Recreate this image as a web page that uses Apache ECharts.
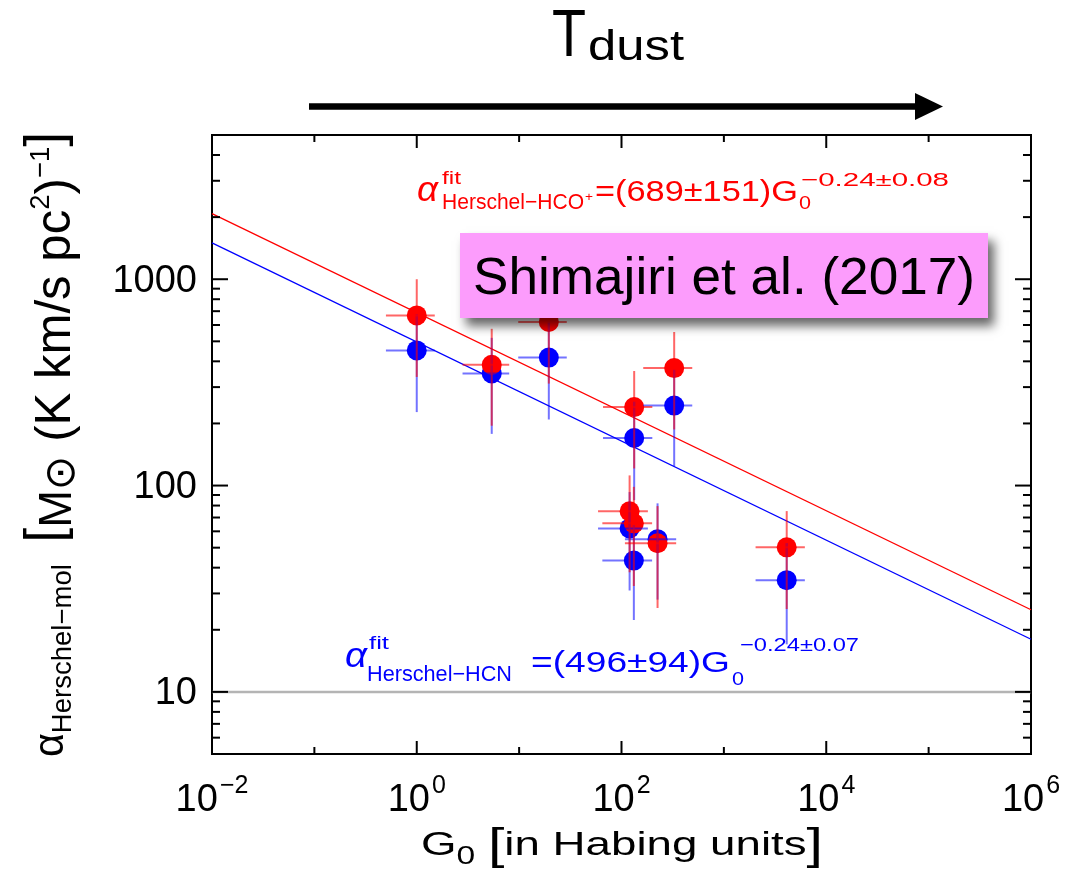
<!DOCTYPE html>
<html>
<head>
<meta charset="utf-8">
<script src="https://cdn.jsdelivr.net/npm/echarts@6/dist/echarts.min.js"></script>
<style>html,body{margin:0;padding:0;background:#fff}#c{width:1081px;height:876px}</style>
</head>
<body>
<div id="c"></div>
<script>
// ---------------- data ----------------
const hcnG        = [1.0, 5.4, 19.5, 327, 133, 120, 225, 132, 4110];
const hcnAlpha    = [452, 349, 417, 244, 170, 62, 55, 43.3, 34.8];
const hcnGErr     = [0.5, 2.6, 9.7, 164, 67, 61, 117, 67, 2070];
const hcnAlphaErr = [225, 171, 208, 120, 85, 31, 27, 21, 17.8];

const hcoG        = [1.0, 5.4, 19.5, 327, 133, 120, 225, 132, 4110];
const hcoAlpha    = [668, 385, 621, 371, 240, 75, 52.5, 65.6, 50.2];
const hcoGErr     = [0.5, 2.6, 9.7, 164, 67, 61, 117, 67, 2070];
const hcoAlphaErr = [332, 190, 309, 184, 119, 37, 27, 33, 25];

// fit lines: end points read at the plot edges
const fitG     = [0.01, 1000000];
const fitHCO   = [2080, 25.0];
const fitHCN   = [1500, 18.0];
const refLevel = [10, 10];

// ticks
const xMajorTicks = [0.01, 1, 100, 10000, 1000000];
const xTickExps   = ['\u22122', '0', '2', '4', '6'];
const xMinorTicks = [0.1, 10, 1000, 100000];
const yMajorTicks = [10, 100, 1000];
const yTickLabels = ['10', '100', '1000'];
const yMinorTicks = [5, 6, 7, 8, 9, 20, 30, 40, 50, 60, 70, 80, 90,
                     200, 300, 400, 500, 600, 700, 800, 900, 2000, 3000, 4000, 5000];

// ---------------- helpers ----------------
const FAM = '"Liberation Sans", Arial, sans-serif';
const mctx = document.createElement('canvas').getContext('2d');
function tw(t, font) { mctx.font = font; return mctx.measureText(t).width; }
function fnt(size, italic, fam) { return (italic ? 'italic ' : '') + size + 'px ' + (fam || FAM); }
const MID = 0.33; // middle-baseline offset (fraction of font size above alphabetic baseline)

function fitText(t, x0, x1, base, size, opt) {
  opt = opt || {};
  const font = fnt(size, opt.italic, opt.family);
  const w = tw(t, font);
  return {
    type: 'text', x: x0, y: base - MID * size, scaleX: (x1 - x0) / w, z: 100,
    style: { text: t, font: font, fill: opt.color || '#000', align: 'left', verticalAlign: 'middle' }
  };
}
// sequential pieces along a baseline, scaled to a total length
function seqText(pieces, x, y, total, rotation, color) {
  let u = 0;
  const children = [];
  pieces.forEach(p => {
    const font = fnt(p.size, p.italic, p.family);
    u += (p.pre || 0);
    children.push({
      type: 'text', x: u, y: (p.dy || 0) - MID * p.size,
      style: { text: p.t, font: font, fill: color || '#000', align: 'left', verticalAlign: 'middle' }
    });
    u += tw(p.t, font);
  });
  return { type: 'group', x: x, y: y, rotation: rotation || 0, scaleX: total / u, z: 100, children: children };
}

function zip4(a, b, c, d) { return a.map((v, i) => [v, b[i], c[i], d[i]]); }

function errRender(color) {
  return function (params, api) {
    const g = api.value(0), a = api.value(1), dg = api.value(2), da = api.value(3);
    const pL = api.coord([g - dg, a]), pR = api.coord([g + dg, a]);
    const pT = api.coord([g, a + da]), pB = api.coord([g, a - da]);
    return {
      type: 'group', children: [
        { type: 'line', shape: { x1: pL[0], y1: pL[1], x2: pR[0], y2: pR[1] }, style: { stroke: color, lineWidth: 2 } },
        { type: 'line', shape: { x1: pT[0], y1: pT[1], x2: pB[0], y2: pB[1] }, style: { stroke: color, lineWidth: 2 } }
      ]
    };
  };
}

function xTickRender(len, withLabel) {
  return function (params, api) {
    const cs = params.coordSys;
    const x = api.coord([api.value(0), 10])[0];
    const bot = cs.y + cs.height;
    const ch = [
      { type: 'line', shape: { x1: x, y1: bot, x2: x, y2: bot - len }, style: { stroke: '#000', lineWidth: 2 } },
      { type: 'line', shape: { x1: x, y1: cs.y, x2: x, y2: cs.y + len }, style: { stroke: '#000', lineWidth: 2 } }
    ];
    if (withLabel) {
      const exp = xTickExps[api.value(1)];
      const f1 = fnt(38), f2 = fnt(25);
      const w1 = tw('10', f1), w2 = tw(exp, f2), gap = 2;
      const x0 = x - (w1 + gap + w2) / 2;
      ch.push({ type: 'text', style: { text: '10', x: x0, y: bot + 59 - MID * 38, font: f1, fill: '#000', align: 'left', verticalAlign: 'middle' } });
      ch.push({ type: 'text', style: { text: exp, x: x0 + w1 + gap, y: bot + 40 - MID * 25, font: f2, fill: '#000', align: 'left', verticalAlign: 'middle' } });
    }
    return { type: 'group', children: ch };
  };
}
function yTickRender(len, withLabel) {
  return function (params, api) {
    const cs = params.coordSys;
    const y = api.coord([1, api.value(0)])[1];
    const right = cs.x + cs.width;
    const ch = [
      { type: 'line', shape: { x1: cs.x, y1: y, x2: cs.x + len, y2: y }, style: { stroke: '#000', lineWidth: 2 } },
      { type: 'line', shape: { x1: right, y1: y, x2: right - len, y2: y }, style: { stroke: '#000', lineWidth: 2 } }
    ];
    if (withLabel) {
      ch.push({ type: 'text', style: { text: yTickLabels[api.value(1)], x: cs.x - 15, y: y + 2, font: fnt(38), fill: '#000', align: 'right', verticalAlign: 'middle' } });
    }
    return { type: 'group', children: ch };
  };
}

// ---------------- chart ----------------
const chart = echarts.init(document.getElementById('c'), null, { renderer: 'canvas' });

const graphics = [
  // T_dust title and arrow
  fitText('T', 552, 586, 60, 66),
  fitText('dust', 588, 684, 62, 42),
  { type: 'line', z: 100, shape: { x1: 309, y1: 106.5, x2: 920, y2: 106.5 }, style: { stroke: '#000', lineWidth: 6.5 } },
  { type: 'polygon', z: 100, shape: { points: [[915, 93], [943, 106.5], [915, 120]] }, style: { fill: '#000' } },

  // red fit equation
  fitText('\u03b1', 417, 438, 203, 36, { italic: true, color: '#ff0000' }),
  fitText('fit', 442, 461, 185, 18, { color: '#ff0000' }),
  fitText('Herschel\u2212HCO', 442, 584, 210, 22, { color: '#ff0000' }),
  fitText('+', 585, 593, 202, 13, { color: '#ff0000' }),
  fitText('=(689\u00b1151)G', 595, 798, 203, 29, { color: '#ff0000' }),
  fitText('0', 799, 811, 210, 19, { color: '#ff0000' }),
  fitText('\u22120.24\u00b10.08', 801, 949, 187, 19, { color: '#ff0000' }),

  // blue fit equation
  fitText('\u03b1', 345, 367, 669, 36, { italic: true, color: '#0000ff' }),
  fitText('fit', 369, 389, 650, 18, { color: '#0000ff' }),
  fitText('Herschel\u2212HCN', 367, 512, 682, 22, { color: '#0000ff' }),
  fitText('=(496\u00b194)G', 531, 730, 674, 29, { color: '#0000ff' }),
  fitText('0', 732, 744, 686, 19, { color: '#0000ff' }),
  fitText('\u22120.24\u00b10.07', 740, 859, 652, 19, { color: '#0000ff' }),

  // reference box
  { type: 'rect', z: 110, shape: { x: 460, y: 233, width: 528, height: 85 },
    style: { fill: '#fc9cfc', shadowBlur: 10, shadowOffsetX: 6, shadowOffsetY: 8, shadowColor: 'rgba(0,0,0,0.6)' } },
  Object.assign(fitText('Shimajiri et al. (2017)', 473, 975, 297, 52), { z: 111 }),

  // x axis title
  seqText([
    { t: 'G', size: 34 },
    { t: '0', size: 25, dy: 8 },
    { t: ' ', size: 34 },
    { t: '[', size: 44, dy: 4 },
    { t: 'in Habing units', size: 34 },
    { t: ']', size: 44, dy: 4 }
  ], 421, 857, 402, 0),

  // y axis title (rotated, reads bottom to top)
  seqText([
    { t: '\u03b1', size: 42, dy: -8 },
    { t: 'Herschel\u2212mol', size: 28, dy: 0 },
    { t: '[', size: 54, dy: -8, pre: 22 },
    { t: 'M', size: 46, dy: 0 },
    { t: '\u2299', size: 42, dy: 4, family: '"DejaVu Sans", sans-serif' },
    { t: '(K km/s pc', size: 50, dy: 0, pre: 14 },
    { t: '2', size: 28, dy: -22 },
    { t: ')', size: 50, dy: 0 },
    { t: '\u22121', size: 28, dy: -22 },
    { t: ']', size: 54, dy: -8 }
  ], 73, 757, 625, Math.PI / 2)
];

const option = {
  animation: false,
  backgroundColor: '#fff',
  grid: { left: 212, right: 50, top: 135, bottom: 122, show: true, borderColor: '#000', borderWidth: 2, backgroundColor: 'transparent' },
  xAxis: {
    type: 'log', logBase: 10, min: 0.01, max: 1000000,
    axisLine: { show: false }, axisTick: { show: false }, axisLabel: { show: false }, splitLine: { show: false }
  },
  yAxis: {
    type: 'log', logBase: 10, min: 5, max: 5000,
    axisLine: { show: false }, axisTick: { show: false }, axisLabel: { show: false }, splitLine: { show: false }
  },
  graphic: graphics,
  series: [
    { type: 'line', data: fitG.map((g, i) => [g, refLevel[i]]), showSymbol: false, symbol: 'none',
      lineStyle: { color: '#b4b4b4', width: 2.5 }, z: 1, silent: true },
    { type: 'line', data: fitG.map((g, i) => [g, fitHCO[i]]), showSymbol: false, symbol: 'none',
      lineStyle: { color: '#ff0000', width: 1.3 }, z: 2, silent: true },
    { type: 'line', data: fitG.map((g, i) => [g, fitHCN[i]]), showSymbol: false, symbol: 'none',
      lineStyle: { color: '#0000ff', width: 1.3 }, z: 2, silent: true },
    { type: 'scatter', data: hcnG.map((g, i) => [g, hcnAlpha[i]]), symbol: 'circle', symbolSize: 20,
      itemStyle: { color: '#0000ff', opacity: 1 }, z: 3 },
    { type: 'scatter', data: hcoG.map((g, i) => [g, hcoAlpha[i]]), symbol: 'circle', symbolSize: 20,
      itemStyle: { color: '#ff0000', opacity: 1 }, z: 4 },
    { type: 'custom', renderItem: errRender('rgba(0,0,255,0.55)'), data: zip4(hcnG, hcnAlpha, hcnGErr, hcnAlphaErr),
      encode: { x: 0, y: 1 }, z: 5, clip: false },
    { type: 'custom', renderItem: errRender('rgba(255,0,0,0.6)'), data: zip4(hcoG, hcoAlpha, hcoGErr, hcoAlphaErr),
      encode: { x: 0, y: 1 }, z: 6, clip: false },
    { type: 'custom', renderItem: xTickRender(13, true), data: xMajorTicks.map((v, i) => [v, i]),
      encode: { x: 0 }, z: 10, clip: false, silent: true },
    { type: 'custom', renderItem: xTickRender(7, false), data: xMinorTicks.map((v, i) => [v, i]),
      encode: { x: 0 }, z: 10, clip: false, silent: true },
    { type: 'custom', renderItem: yTickRender(16, true), data: yMajorTicks.map((v, i) => [v, i]),
      encode: { y: 0 }, z: 10, clip: false, silent: true },
    { type: 'custom', renderItem: yTickRender(8, false), data: yMinorTicks.map((v, i) => [v, i]),
      encode: { y: 0 }, z: 10, clip: false, silent: true }
  ]
};
chart.setOption(option);
</script>
</body>
</html>
